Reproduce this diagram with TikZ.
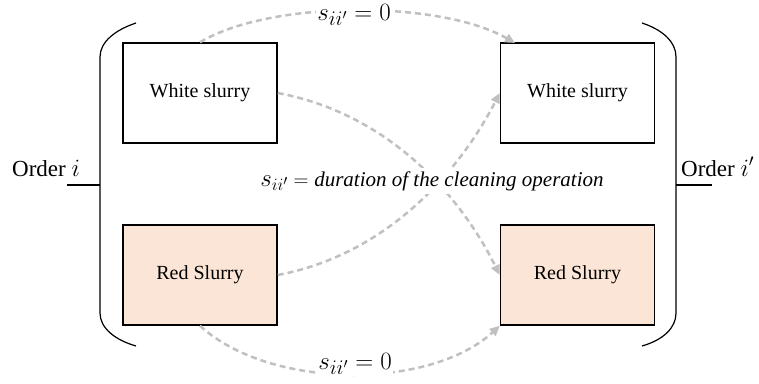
\documentclass[tikz,border=0pt]{standalone}
\usepackage{fontspec}
\setmainfont{Liberation Serif}
\usetikzlibrary{arrows.meta}
\definecolor{peach}{RGB}{251,229,214}
\definecolor{dashgray}{RGB}{192,192,192}
\tikzset{
  slurry/.style={draw=black, line width=1.5pt, minimum width=154pt, minimum height=100pt, inner sep=0pt, font=\fontsize{20}{24}\selectfont},
  redbox/.style={slurry, fill=peach},
  flow/.style={draw=dashgray, line width=2.5pt, dash pattern=on 6pt off 4pt, -{Triangle[length=10pt,width=9pt]}},
  bracket/.style={draw=black, line width=1.2pt},
  mathlbl/.style={fill=white, inner sep=1pt, font=\fontsize{28}{32}\selectfont},
  orderlbl/.style={inner sep=0pt, font=\fontsize{23}{27}\selectfont}
}
\begin{document}
\begin{tikzpicture}[x=1pt,y=-1pt]
\useasboundingbox (0,0) rectangle (759,383);
% boxes
\node[slurry] (wl) at (200,93) {White slurry};
\node[slurry] (wr) at (577.5,93) {White slurry};
\node[redbox] (rl) at (200,275) {Red Slurry};
\node[redbox] (rr) at (577.5,275) {Red Slurry};
% connectors
\coordinate (topend) at (515,43);
\draw[flow] (wl.north) .. controls (270,0) and (440,0) .. (topend);
\draw[flow] (rl.south) .. controls (270,390) and (430,390) .. (rr.south west);
\draw[flow] (wl.east) .. controls (380,112) and (455,185) .. (rr.west);
\draw[flow] (rl.east) .. controls (380,256) and (455,180) .. (wr.west);
% labels
\node[mathlbl] (ltop) at (354,15) {$s_{ii'} = 0$};
\node[mathlbl] (lbot) at (355,364) {$s_{ii'} = 0$};
\node[mathlbl, inner sep=3pt, font=\fontsize{21}{26}\selectfont] (lmid) at (432,181) {{\fontsize{27}{30}\selectfont$s_{ii'}$} $= \mathit{duration\ of\ the\ cleaning\ operation}$};
% left bracket
\coordinate (lt0) at (136,23);
\coordinate (lt1) at (100,57);
\coordinate (lb1) at (100,313);
\coordinate (lb0) at (136,346);
\coordinate (lk0) at (67,185);
\coordinate (lk1) at (100,185);
\draw[bracket] (lt0) .. controls (115,30) and (100,42) .. (lt1) -- (lb1) .. controls (100,328) and (115,340) .. (lb0);
\draw[bracket] (lk0) -- (lk1);
% right bracket
\coordinate (rt0) at (642,23);
\coordinate (rt1) at (676,57);
\coordinate (rb1) at (676,313);
\coordinate (rb0) at (642,346);
\coordinate (rk0) at (676,185);
\coordinate (rk1) at (712,185);
\draw[bracket] (rt0) .. controls (663,30) and (676,42) .. (rt1) -- (rb1) .. controls (676,328) and (663,340) .. (rb0);
\draw[bracket] (rk0) -- (rk1);
% order labels
\node[orderlbl, anchor=base west] (oi) at (12,176) {Order $i$};
\node[orderlbl, anchor=base west] (oj) at (681,176) {Order $i'$};
\end{tikzpicture}
\end{document}
